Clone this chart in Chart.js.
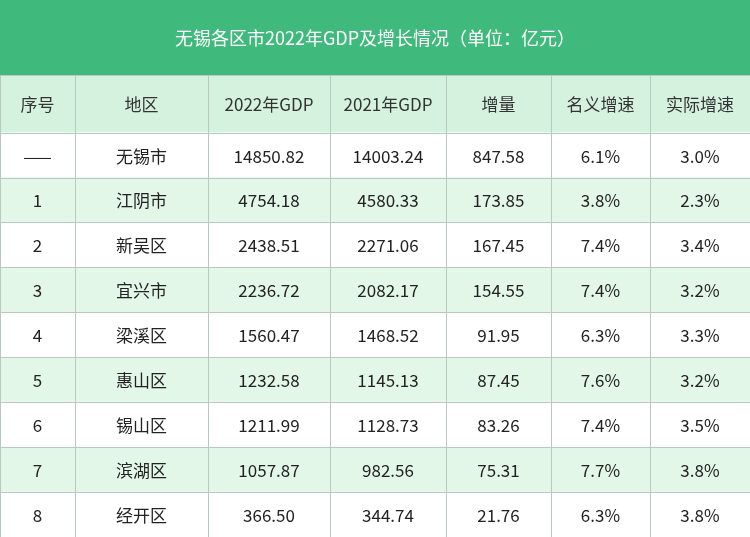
<!DOCTYPE html>
<html><head><meta charset="utf-8">
<script src="https://cdn.jsdelivr.net/npm/chart.js@4"></script>
<style>body{margin:0;background:#fff}canvas{display:block}</style>
</head><body>
<canvas id="c" width="750" height="537"></canvas>
<script>
const title = '无锡各区市2022年GDP及增长情况（单位：亿元）';
const headers = ['序号', '地区', '2022年GDP', '2021年GDP', '增量', '名义增速', '实际增速'];
const seq = ['——', '1', '2', '3', '4', '5', '6', '7', '8'];
const regions = ['无锡市', '江阴市', '新吴区', '宜兴市', '梁溪区', '惠山区', '锡山区', '滨湖区', '经开区'];
const gdp2022 = ['14850.82', '4754.18', '2438.51', '2236.72', '1560.47', '1232.58', '1211.99', '1057.87', '366.50'];
const gdp2021 = ['14003.24', '4580.33', '2271.06', '2082.17', '1468.52', '1145.13', '1128.73', '982.56', '344.74'];
const increase = ['847.58', '173.85', '167.45', '154.55', '91.95', '87.45', '83.26', '75.31', '21.76'];
const nominal = ['6.1%', '3.8%', '7.4%', '7.4%', '6.3%', '7.6%', '7.4%', '7.7%', '6.3%'];
const real = ['3.0%', '2.3%', '3.4%', '3.2%', '3.3%', '3.2%', '3.5%', '3.8%', '3.8%'];
// column edges in x-scale units
const colEdges = [0, 75, 208, 330, 446, 551, 650, 750];

const rowsText = regions.map((r, i) =>
  [seq[i], r, gdp2022[i], gdp2021[i], increase[i], nominal[i], real[i]]);
const rowColors = regions.map((k, i) => i % 2 === 1 ? '#e3f7e9' : '#ffffff');
const FONT = '17px "Noto Sans CJK SC", sans-serif';
const TITLE_H = 75;

function colCenter(x, c) {
  return (x.getPixelForValue(colEdges[c]) + x.getPixelForValue(colEdges[c + 1])) / 2;
}

const tablePlugin = {
  id: 'tablePlugin',
  beforeDraw(chart) {
    const ctx = chart.ctx, x = chart.scales.x, top = chart.chartArea.top;
    ctx.save();
    ctx.fillStyle = '#fff';
    ctx.fillRect(0, 0, chart.width, chart.height);
    ctx.fillStyle = '#3fba7c';
    ctx.fillRect(0, 0, chart.width, TITLE_H);
    ctx.fillStyle = '#d5f2df';
    ctx.fillRect(0, TITLE_H, chart.width, top - TITLE_H);
    ctx.fillStyle = '#333';
    ctx.font = FONT;
    ctx.textAlign = 'center';
    ctx.textBaseline = 'middle';
    headers.forEach((t, c) => ctx.fillText(t, colCenter(x, c), (TITLE_H + top) / 2 + 1));
    ctx.restore();
  },
  afterDatasetsDraw(chart) {
    const ctx = chart.ctx, x = chart.scales.x, y = chart.scales.y;
    const half = (y.getPixelForValue(1) - y.getPixelForValue(0)) / 2;
    ctx.save();
    ctx.strokeStyle = '#b9c9bf';
    ctx.lineWidth = 1;
    const lineAt = yy => {
      ctx.beginPath();
      ctx.moveTo(0, Math.round(yy) + 0.5);
      ctx.lineTo(chart.width, Math.round(yy) + 0.5);
      ctx.stroke();
    };
    lineAt(TITLE_H);
    lineAt(chart.chartArea.top);
    regions.forEach((k, r) => lineAt(y.getPixelForValue(r) + half));
    colEdges.forEach(e => {
      const px = Math.round(x.getPixelForValue(e)) + 0.5;
      ctx.beginPath();
      ctx.moveTo(px, TITLE_H);
      ctx.lineTo(px, chart.chartArea.bottom);
      ctx.stroke();
    });
    ctx.textAlign = 'center';
    ctx.textBaseline = 'middle';
    ctx.fillStyle = '#222';
    ctx.font = FONT;
    rowsText.forEach((cells, r) => {
      const yc = y.getPixelForValue(r);
      cells.forEach((t, c) => ctx.fillText(t, colCenter(x, c), yc + 1));
    });
    ctx.restore();
  }
};

new Chart(document.getElementById('c'), {
  type: 'bar',
  data: {
    labels: regions,
    datasets: [{
      data: regions.map(() => [0, 750]),
      backgroundColor: rowColors,
      barPercentage: 1,
      categoryPercentage: 1,
      borderWidth: 0
    }]
  },
  options: {
    indexAxis: 'y',
    responsive: false,
    animation: false,
    layout: { padding: 0 },
    plugins: {
      legend: { display: false },
      tooltip: { enabled: false },
      title: {
        display: true,
        text: title,
        color: '#fff',
        font: { size: 18, family: '"Noto Sans CJK SC", sans-serif', weight: 'normal' },
        padding: { top: 27, bottom: 84 }
      }
    },
    scales: {
      x: { display: false, min: 0, max: 750 },
      y: { display: false }
    }
  },
  plugins: [tablePlugin]
});
</script>
</body></html>
